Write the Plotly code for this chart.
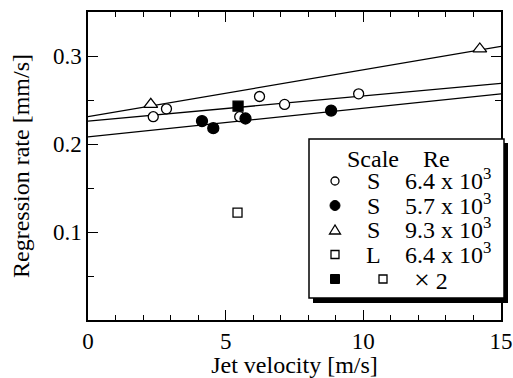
import plotly.graph_objects as go

# ---------------- data ----------------
s64_x = [2.37, 2.85, 5.51, 6.23, 7.14, 9.83]
s64_y = [0.231, 0.240, 0.231, 0.254, 0.245, 0.257]
s57_x = [4.14, 4.55, 5.72, 8.83]
s57_y = [0.226, 0.218, 0.229, 0.238]
s93_x = [2.28, 14.23]
s93_y = [0.245, 0.308]
l64_x = [5.43]
l64_y = [0.122]
l64x2_x = [5.45]
l64x2_y = [0.243]

fit_x = [0, 15]
fit_top = [0.231, 0.311]
fit_mid = [0.226, 0.269]
fit_bot = [0.208, 0.257]

legend_rows = [("S", "6.4 x 10<sup>3</sup>"), ("S", "5.7 x 10<sup>3</sup>"),
               ("S", "9.3 x 10<sup>3</sup>"), ("L", "6.4 x 10<sup>3</sup>")]

FONT = "Liberation Serif"
W, H = 513, 378
ML, MR, MT, MB = 88, 12, 12, 58
PW, PH = W - ML - MR, H - MT - MB


def px(x):
    return (x - ML) / PW


def py(y):
    return (H - MB - y) / PH


fig = go.Figure()
for fy in (fit_top, fit_mid, fit_bot):
    fig.add_trace(go.Scatter(x=fit_x, y=fy, mode="lines",
                             line=dict(color="black", width=1.3), hoverinfo="skip"))

mk_line = dict(color="black", width=1.3)
fig.add_trace(go.Scatter(x=s64_x, y=s64_y, mode="markers",
                         marker=dict(symbol="circle", size=10, color="white", line=mk_line)))
fig.add_trace(go.Scatter(x=s57_x, y=s57_y, mode="markers",
                         marker=dict(symbol="circle", size=11, color="black", line=mk_line)))
fig.add_trace(go.Scatter(x=s93_x, y=s93_y, mode="markers",
                         marker=dict(symbol="triangle-up", size=12, color="white", line=mk_line)))
fig.add_trace(go.Scatter(x=l64_x, y=l64_y, mode="markers",
                         marker=dict(symbol="square", size=9, color="white", line=mk_line)))
fig.add_trace(go.Scatter(x=l64x2_x, y=l64x2_y, mode="markers",
                         marker=dict(symbol="square", size=10, color="black", line=mk_line)))

axis_common = dict(showline=True, linecolor="black", linewidth=1.5, mirror="ticks",
                   ticks="inside", ticklen=10, tickwidth=1.3, tickcolor="black",
                   showgrid=False, zeroline=False, automargin=False,
                   tickfont=dict(family=FONT, size=23, color="black"))

fig.update_xaxes(range=[0, 15], tickvals=[0, 5, 10, 15],
                 minor=dict(dtick=1, ticks="inside", ticklen=5, tickwidth=1.3, tickcolor="black"),
                 title=dict(text="Jet velocity [m/s]", font=dict(family=FONT, size=24, color="black"),
                            standoff=12),
                 **axis_common)
fig.update_yaxes(range=[0, 0.35], tickvals=[0.1, 0.2, 0.3], ticktext=["0.1", "0.2", "0.3"],
                 minor=dict(tickvals=[0.05, 0.15, 0.25], ticks="inside", ticklen=6, tickwidth=1.3,
                            tickcolor="black"),
                 title=dict(text="Regression rate [mm/s]", font=dict(family=FONT, size=24, color="black"),
                            standoff=17),
                 **axis_common)

# legend box (drawn manually)
shapes = []
shapes.append(dict(type="rect", xref="paper", yref="paper", layer="above",
                   x0=px(313), x1=px(508), y0=py(143), y1=py(303),
                   fillcolor="black", line=dict(width=0)))
shapes.append(dict(type="rect", xref="paper", yref="paper", layer="above",
                   x0=px(309), x1=px(504), y0=py(139), y1=py(298),
                   fillcolor="white", line=dict(color="black", width=1.5)))

row_y = [181, 205.5, 230, 254.5, 279]
mx = 335
r = 4
# row markers
shapes.append(dict(type="circle", xref="paper", yref="paper", layer="above",
                   x0=px(mx - r), x1=px(mx + r), y0=py(row_y[0] + r), y1=py(row_y[0] - r),
                   fillcolor="white", line=dict(color="black", width=1.3)))
shapes.append(dict(type="circle", xref="paper", yref="paper", layer="above",
                   x0=px(mx - 5), x1=px(mx + 5), y0=py(row_y[1] + 5), y1=py(row_y[1] - 5),
                   fillcolor="black", line=dict(color="black", width=1)))
ty = row_y[2]
path = "M {} {} L {} {} L {} {} Z".format(px(mx), py(ty - 5), px(mx - 5.5), py(ty + 4),
                                          px(mx + 5.5), py(ty + 4))
shapes.append(dict(type="path", xref="paper", yref="paper", layer="above", path=path,
                   fillcolor="white", line=dict(color="black", width=1.3)))
shapes.append(dict(type="rect", xref="paper", yref="paper", layer="above",
                   x0=px(mx - 4), x1=px(mx + 4), y0=py(row_y[3] + 4), y1=py(row_y[3] - 4),
                   fillcolor="white", line=dict(color="black", width=1.3)))
shapes.append(dict(type="rect", xref="paper", yref="paper", layer="above",
                   x0=px(mx - 4.5), x1=px(mx + 4.5), y0=py(row_y[4] + 4.5), y1=py(row_y[4] - 4.5),
                   fillcolor="black", line=dict(color="black", width=1)))
shapes.append(dict(type="rect", xref="paper", yref="paper", layer="above",
                   x0=px(383 - 4), x1=px(383 + 4), y0=py(row_y[4] + 4), y1=py(row_y[4] - 4),
                   fillcolor="white", line=dict(color="black", width=1.3)))

ann = []
tf = dict(family=FONT, size=24, color="black")
ann.append(dict(x=px(373), y=py(159), xref="paper", yref="paper", text="Scale",
                showarrow=False, font=tf, xanchor="center", yanchor="middle"))
ann.append(dict(x=px(436), y=py(159), xref="paper", yref="paper", text="Re",
                showarrow=False, font=tf, xanchor="center", yanchor="middle"))
for (sc, re), yy in zip(legend_rows, row_y[:4]):
    ann.append(dict(x=px(373), y=py(yy), xref="paper", yref="paper", text=sc,
                    showarrow=False, font=tf, xanchor="center", yanchor="middle"))
    ann.append(dict(x=px(403), y=py(yy - 2), xref="paper", yref="paper", text=re,
                    showarrow=False, font=tf, xanchor="left", yanchor="middle"))
ann.append(dict(x=px(431), y=py(row_y[4]), xref="paper", yref="paper",
                text="<span style='font-size:28px'>×</span> 2",
                showarrow=False, font=tf, xanchor="center", yanchor="middle"))

fig.update_layout(width=W, height=H, margin=dict(l=ML, r=MR, t=MT, b=MB),
                  paper_bgcolor="white", plot_bgcolor="white", showlegend=False,
                  shapes=shapes, annotations=ann,
                  font=dict(family=FONT, color="black"))

fig.write_html("out.html")
